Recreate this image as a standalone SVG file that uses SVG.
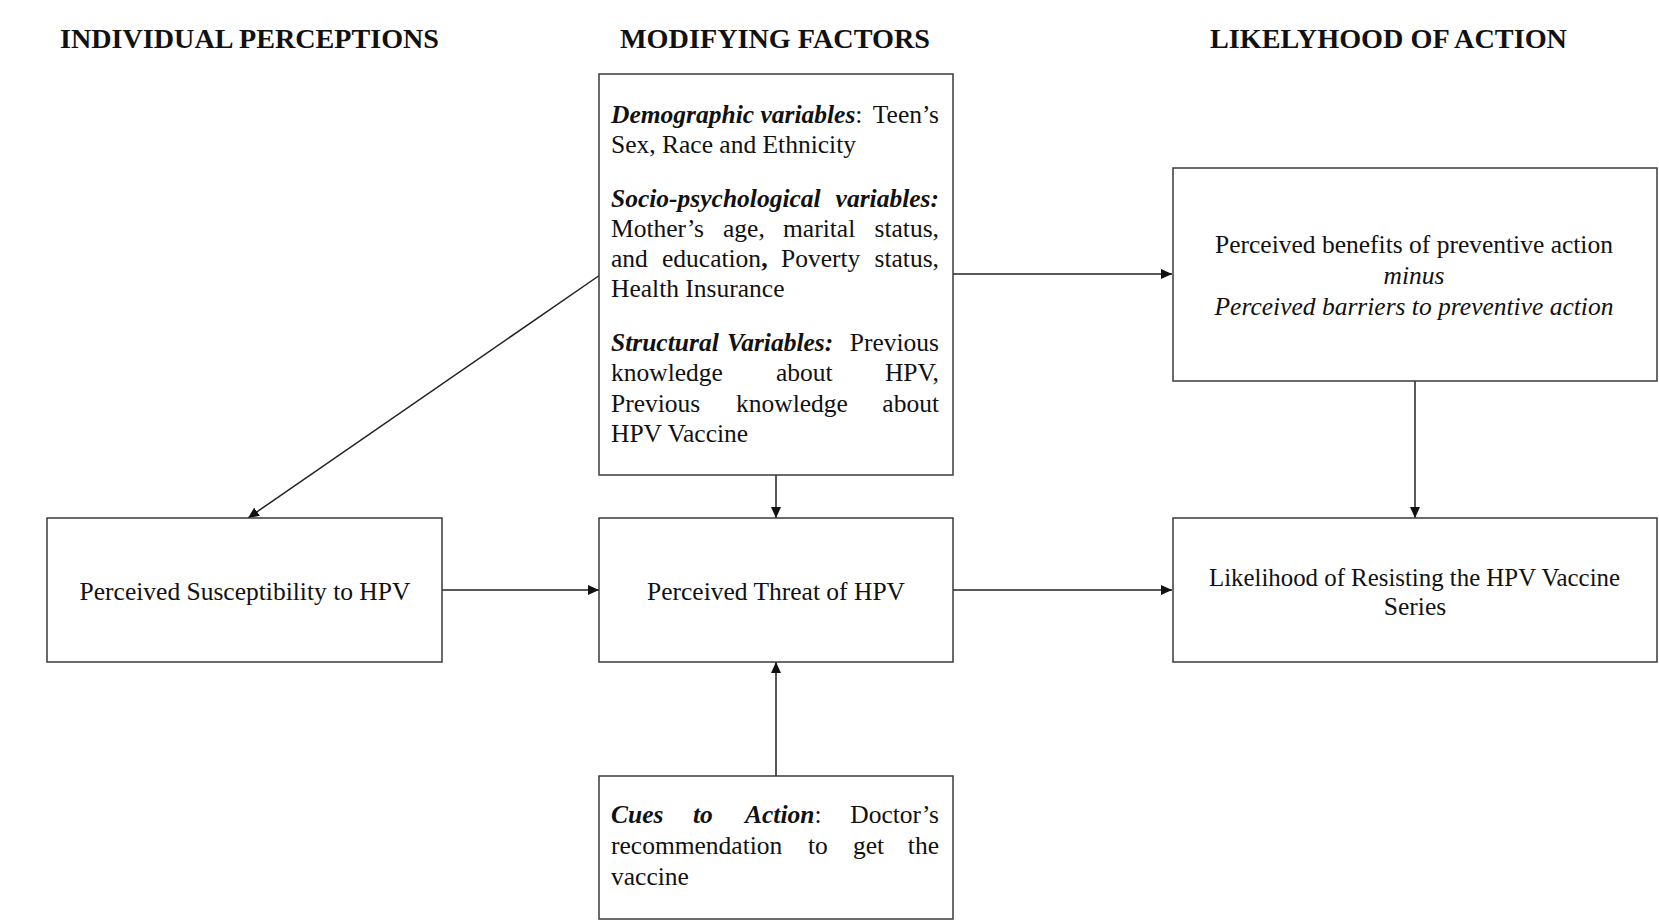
<svg xmlns="http://www.w3.org/2000/svg" width="1659" height="921" viewBox="0 0 1659 921">
<style>
.bx{fill:#fff;stroke:#3a3a3a;stroke-width:1.5}
.t{font-family:"Liberation Serif","Times New Roman",serif;font-size:25.5px;fill:#111}
.h{font-family:"Liberation Serif","Times New Roman",serif;font-size:27.5px;font-weight:bold;fill:#111}
.bi{font-weight:bold;font-style:italic}
.i{font-style:italic}
.c{text-anchor:middle}
.e{text-anchor:end}
.ln{stroke:#222;stroke-width:1.5;fill:none;marker-end:url(#ah)}
</style>
<defs>
<marker id="ah" markerUnits="userSpaceOnUse" markerWidth="12" markerHeight="10" refX="11" refY="5" orient="auto">
<path d="M0,0 L11,5 L0,10 Z" fill="#111"/>
</marker>
</defs>
<rect width="1659" height="921" fill="#fff"/>
<g id="headings">
<text class="h" x="60" y="48" textLength="379" lengthAdjust="spacingAndGlyphs">INDIVIDUAL PERCEPTIONS</text>
<text class="h" x="620" y="48" textLength="310" lengthAdjust="spacingAndGlyphs">MODIFYING FACTORS</text>
<text class="h" x="1210" y="48" textLength="357" lengthAdjust="spacingAndGlyphs">LIKELYHOOD OF ACTION</text>
</g>
<g id="connectors">
<line class="ln" x1="600" y1="275" x2="248" y2="518"/>
<line class="ln" x1="953" y1="274" x2="1172" y2="274"/>
<line class="ln" x1="776" y1="475" x2="776" y2="518"/>
<line class="ln" x1="1415" y1="381" x2="1415" y2="518"/>
<line class="ln" x1="442" y1="590" x2="599" y2="590"/>
<line class="ln" x1="953" y1="590" x2="1172" y2="590"/>
<line class="ln" x1="776" y1="776" x2="776" y2="662"/>
</g>
<g id="modifying-factors">
<rect class="bx" x="599" y="74" width="354" height="401"/>
<text class="t" y="123"><tspan x="611" class="bi">Demographic variables</tspan><tspan>:</tspan><tspan x="939" class="e">Teen’s</tspan></text>
<text class="t" x="611" y="153">Sex, Race and Ethnicity</text>
<text class="t" y="207"><tspan x="611" class="bi">Socio-psychological</tspan><tspan x="939" class="e bi">variables:</tspan></text>
<text class="t" y="237"><tspan x="611">Mother’s</tspan><tspan x="723">age,</tspan><tspan x="783">marital</tspan><tspan x="939" class="e">status,</tspan></text>
<text class="t" y="267"><tspan x="611">and</tspan><tspan x="662">education<tspan font-weight="bold">,</tspan></tspan><tspan x="781">Poverty</tspan><tspan x="939" class="e">status,</tspan></text>
<text class="t" x="611" y="297">Health Insurance</text>
<text class="t" y="351"><tspan x="611" class="bi">Structural</tspan><tspan x="727" class="bi">Variables:</tspan><tspan x="939" class="e">Previous</tspan></text>
<text class="t" y="381"><tspan x="611">knowledge</tspan><tspan x="776">about</tspan><tspan x="939" class="e">HPV,</tspan></text>
<text class="t" y="412"><tspan x="611">Previous</tspan><tspan x="736">knowledge</tspan><tspan x="939" class="e">about</tspan></text>
<text class="t" x="611" y="442">HPV Vaccine</text>
</g>
<g id="perceived-benefits">
<rect class="bx" x="1173" y="168" width="484" height="213"/>
<text class="t c" x="1414" y="253">Perceived benefits of preventive action</text>
<text class="t c i" x="1414" y="284">minus</text>
<text class="t c i" x="1414" y="315">Perceived barriers to preventive action</text>
</g>
<g id="perceived-susceptibility">
<rect class="bx" x="47" y="518" width="395" height="144"/>
<text class="t c" x="245" y="600">Perceived Susceptibility to HPV</text>
</g>
<g id="perceived-threat">
<rect class="bx" x="599" y="518" width="354" height="144"/>
<text class="t c" x="776" y="600">Perceived Threat of HPV</text>
</g>
<g id="likelihood">
<rect class="bx" x="1173" y="518" width="484" height="144"/>
<text class="t" x="1209" y="586" textLength="411" lengthAdjust="spacingAndGlyphs">Likelihood of Resisting the HPV Vaccine</text>
<text class="t c" x="1415" y="615">Series</text>
</g>
<g id="cues-to-action">
<rect class="bx" x="599" y="776" width="354" height="143"/>
<text class="t" y="823"><tspan x="611" class="bi">Cues</tspan><tspan x="693" class="bi">to</tspan><tspan x="745" class="bi">Action</tspan><tspan>:</tspan><tspan x="939" class="e">Doctor’s</tspan></text>
<text class="t" y="854"><tspan x="611">recommendation</tspan><tspan x="808">to</tspan><tspan x="853">get</tspan><tspan x="939" class="e">the</tspan></text>
<text class="t" x="611" y="885">vaccine</text>
</g>
</svg>
